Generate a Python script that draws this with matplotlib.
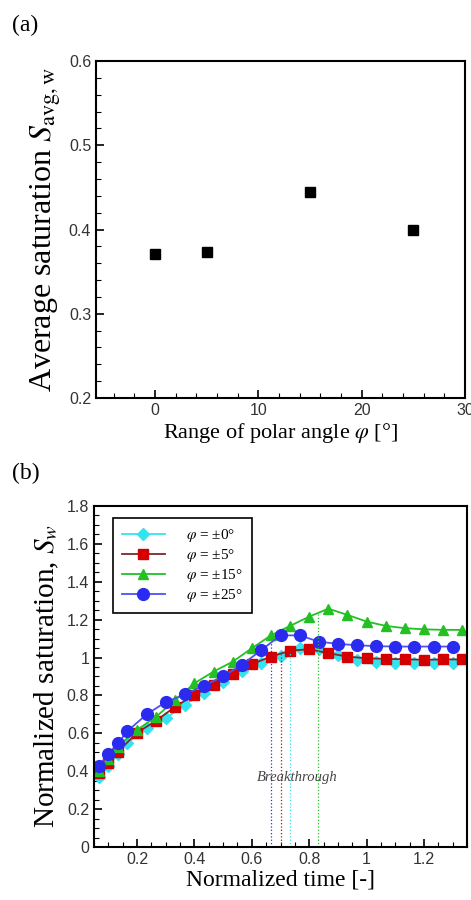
import numpy as np
import matplotlib
matplotlib.use('Agg')
import matplotlib.pyplot as plt
from matplotlib.ticker import MultipleLocator, FormatStrFormatter

plt.rcParams['font.family'] = ['Liberation Serif', 'DejaVu Serif']
plt.rcParams['mathtext.fontset'] = 'stix'

# (a) saturacion media frente al rango del angulo polar
angulo = [0, 5, 15, 25]
sat_media = [0.371, 0.373, 0.444, 0.400]

# (b) saturacion normalizada frente al tiempo normalizado
t_a = [0.0667, 0.1, 0.1333, 0.1667, 0.2333, 0.3, 0.3667, 0.4333, 0.5, 0.5667, 0.6333,
       0.7, 0.7667, 0.8333, 0.9, 0.9667, 1.0333, 1.1, 1.1667, 1.2333, 1.3]
t_b = [0.0667, 0.1, 0.1333, 0.2, 0.2667, 0.3333, 0.4, 0.4667, 0.5333, 0.6, 0.6667,
       0.7333, 0.8, 0.8667, 0.9333, 1.0, 1.0667, 1.1333, 1.2, 1.2667, 1.3333]
s_0 = [0.371, 0.43, 0.49, 0.55, 0.627, 0.68, 0.75, 0.815, 0.873, 0.931, 0.97,
       1.01, 1.05, 1.045, 1.014, 0.987, 0.978, 0.973, 0.973, 0.972, 0.972]
s_5 = [0.392, 0.445, 0.503, 0.603, 0.667, 0.741, 0.803, 0.855, 0.913, 0.965, 1.005,
       1.036, 1.044, 1.023, 1.005, 0.996, 0.993, 0.991, 0.988, 0.99, 0.99]
s_15 = [0.40, 0.465, 0.53, 0.618, 0.688, 0.776, 0.864, 0.926, 0.978, 1.049, 1.117,
        1.167, 1.216, 1.258, 1.225, 1.19, 1.167, 1.155, 1.149, 1.146, 1.146]
s_25 = [0.428, 0.491, 0.547, 0.612, 0.700, 0.765, 0.805, 0.852, 0.901, 0.963, 1.04,
        1.117, 1.117, 1.084, 1.072, 1.065, 1.06, 1.058, 1.058, 1.058, 1.058]
etiquetas = [r'$\varphi$ = ±0°', r'$\varphi$ = ±5°', r'$\varphi$ = ±15°', r'$\varphi$ = ±25°']
t_ruptura = [0.733, 0.70, 0.831, 0.666]

fig = plt.figure(figsize=(4.71, 9), dpi=100)

def estilo_ejes(ax):
    for s in ax.spines.values():
        s.set_linewidth(1.5)
    ax.tick_params(which='both', direction='in', top=False, right=False,
                   labelsize=11.5, labelcolor='#333333', width=1.2)
    ax.tick_params(which='major', length=6)
    ax.tick_params(which='minor', length=3.5, width=0.8)
    for lab in ax.get_xticklabels() + ax.get_yticklabels():
        lab.set_family(['Liberation Sans', 'DejaVu Sans'])

# Grafico (a)
ax1 = fig.add_axes([0.2038, 0.5578, 0.7834, 0.3744])
ax1.plot(angulo, sat_media, 's', color='black', markersize=7)
ax1.set_xlim(-5.7, 30)
ax1.set_ylim(0.2, 0.6)
ax1.xaxis.set_major_locator(MultipleLocator(10))
ax1.xaxis.set_minor_locator(MultipleLocator(2))
ax1.yaxis.set_major_locator(MultipleLocator(0.1))
ax1.yaxis.set_minor_locator(MultipleLocator(0.02))
ax1.xaxis.set_major_formatter(FormatStrFormatter('%g'))
ax1.yaxis.set_major_formatter(FormatStrFormatter('%g'))
estilo_ejes(ax1)
ax1.set_xlabel(r'Range of polar angle $\varphi$ [°]', fontsize=16, labelpad=2)
ax1.set_ylabel(r'Average saturation $S_{\mathrm{avg,w}}$', fontsize=23, labelpad=4)
fig.text(0.025, 0.965, '(a)', fontsize=17)

# Grafico (b)
ax2 = fig.add_axes([0.1996, 0.0589, 0.792, 0.3789])
colores = ['#33E3F0', '#D40000', '#22C022', '#2B2BF0']
colores_linea = ['#33E3F0', '#7A2A2A', '#22C022', '#5050F0']
marcadores = ['D', 's', '^', 'o']
tamanos = [6, 6.5, 7, 8.5]
tiempos = [t_a, t_b, t_b, t_a]
series = [s_0, s_5, s_15, s_25]
for t, s, c, cl, m, ms, lab in zip(tiempos, series, colores, colores_linea, marcadores, tamanos, etiquetas):
    ax2.plot(t, s, color=cl, linewidth=1.3, marker=m, markersize=ms,
             markerfacecolor=c, markeredgecolor=c, label=lab)

# Lineas de ruptura
for tr, t, s, c in zip(t_ruptura, tiempos, series, colores):
    ax2.plot([tr, tr], [0, np.interp(tr, t, s)], linestyle=':', color=c, linewidth=0.9)
ax2.text(0.758, 0.365, 'Breakthrough', fontsize=10.5, style='italic',
         color='#444444', ha='center', va='center')

ax2.set_xlim(0.05, 1.35)
ax2.set_ylim(0, 1.8)
ax2.xaxis.set_major_locator(MultipleLocator(0.2))
ax2.xaxis.set_minor_locator(MultipleLocator(0.05))
ax2.yaxis.set_major_locator(MultipleLocator(0.2))
ax2.yaxis.set_minor_locator(MultipleLocator(0.05))
ax2.xaxis.set_major_formatter(FormatStrFormatter('%g'))
ax2.yaxis.set_major_formatter(FormatStrFormatter('%g'))
estilo_ejes(ax2)
ax2.set_xlabel('Normalized time [-]', fontsize=17, labelpad=2)
ax2.set_ylabel(r'Normalized saturation, $S_w$', fontsize=21, labelpad=4)
leg = ax2.legend(loc='upper left', bbox_to_anchor=(0.05, 0.965), borderaxespad=0,
                 fontsize=11, handlelength=2.8, handletextpad=1.4, borderpad=0.6,
                 labelspacing=0.2, fancybox=False, framealpha=1, edgecolor='black')
leg.get_frame().set_linewidth(1.2)
fig.text(0.025, 0.468, '(b)', fontsize=17)

fig.savefig('out.png', dpi=100)
